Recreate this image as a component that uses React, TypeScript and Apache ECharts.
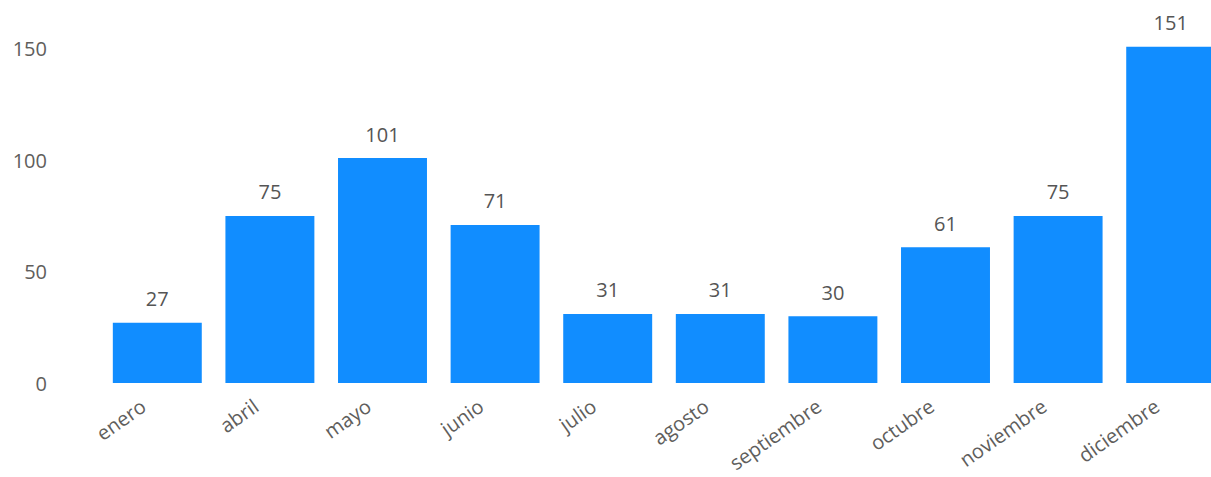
import React, { useEffect, useRef } from "react";
import * as echarts from "echarts";

const categories = ["enero", "abril", "mayo", "junio", "julio", "agosto", "septiembre", "octubre", "noviembre", "diciembre"];
const values = [27, 75, 101, 71, 31, 31, 30, 61, 75, 151];

export default function App() {
  const ref = useRef<HTMLDivElement>(null);
  useEffect(() => {
    if (!ref.current) return;
    const chart = echarts.init(ref.current, undefined, { renderer: "svg" });
    const font = "'Open Sans', 'Noto Sans', sans-serif";
    chart.setOption({
      animation: false,
      grid: { left: 101, right: 13, top: 4.4, bottom: 94, containLabel: false },
      xAxis: {
        type: "category",
        data: categories,
        axisLine: { show: false },
        axisTick: { show: false },
        axisLabel: {
          rotate: 35,
          interval: 0,
          margin: 11,
          padding: [0, 17, 0, 0],
          color: "#605E5C",
          fontSize: 20,
          fontFamily: font,
        },
      },
      yAxis: {
        type: "value",
        min: 0,
        max: 170,
        interval: 50,
        splitLine: { show: false },
        axisLine: { show: false },
        axisTick: { show: false },
        axisLabel: {
          showMaxLabel: false,
          margin: 54,
          color: "#605E5C",
          fontSize: 20,
          fontFamily: font,
        },
      },
      series: [
        {
          type: "bar",
          data: values,
          barCategoryGap: "21%",
          itemStyle: { color: "#118DFF" },
          label: {
            show: true,
            position: "top",
            distance: 14,
            color: "#555555",
            fontSize: 20,
            fontFamily: font,
          },
        },
      ],
    });
    return () => chart.dispose();
  }, []);
  return (
    <div style={{ position: "fixed", left: 0, top: 0, width: 1211, height: 477, overflow: "hidden", background: "#fff" }}>
      <div ref={ref} style={{ width: 1240, height: 477 }} />
    </div>
  );
}
